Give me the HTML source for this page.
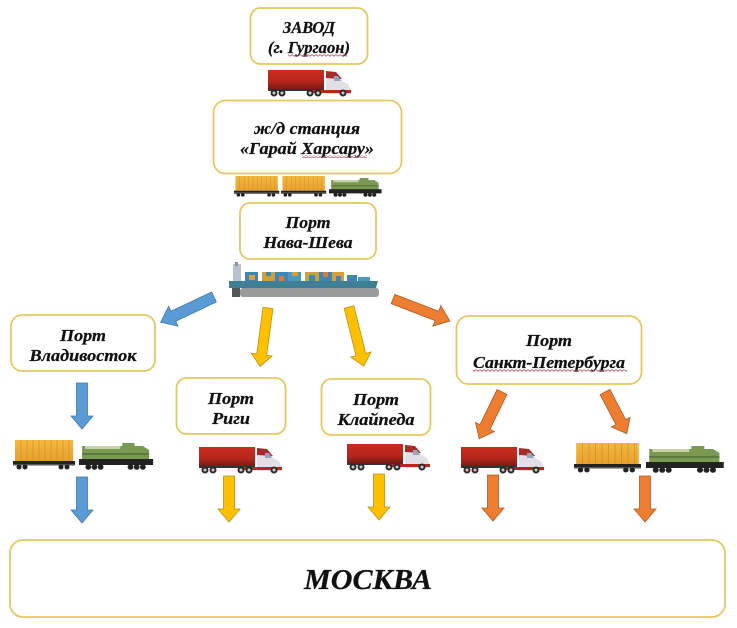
<!DOCTYPE html>
<html>
<head>
<meta charset="utf-8">
<style>
html,body{margin:0;padding:0;background:#fff;width:737px;height:628px;overflow:hidden}
svg{display:block;filter:blur(.35px)}
text{font-family:"Liberation Serif","Noto Serif CJK SC",serif;font-weight:bold;font-style:italic;text-anchor:middle;font-size:16.5px;fill:#111;stroke:#111;stroke-width:.25}
.b{fill:#fff;stroke:#e6c862;stroke-width:1.8}
.bl{fill:#5b9bd5;stroke:#3f78ad;stroke-width:.8}
.ye{fill:#ffc000;stroke:#b8901a;stroke-width:.8}
.or{fill:#ed7d31;stroke:#b15a22;stroke-width:.8}
</style>
</head>
<body>
<svg width="737" height="628" viewBox="0 0 737 628" xmlns="http://www.w3.org/2000/svg">
<defs>
<pattern id="wave" width="4" height="3" patternUnits="userSpaceOnUse"><path d="M0 .5 L2 2.300 L4 .5" fill="none" stroke="#b5485a" stroke-width=".8"/></pattern>
<linearGradient id="red" x1="0" y1="0" x2="0" y2="1"><stop offset="0" stop-color="#cc2c20"/><stop offset=".6" stop-color="#b5261c"/><stop offset="1" stop-color="#7a1a14"/></linearGradient>
<linearGradient id="org" x1="0" y1="0" x2="0" y2="1"><stop offset="0" stop-color="#f3b93f"/><stop offset="1" stop-color="#e8a02c"/></linearGradient>
<g id="truck">
<rect x="0" y="0" width="56" height="19" fill="url(#red)"/>
<rect x="0" y="19" width="56" height="2" fill="#333"/>
<path d="M58 2 L68 3 L74 11 L80 14 L83 21 L83 24 L58 24 Z" fill="#e2e0e6"/>
<path d="M58 1 L68 2 L74 9 L58 8 Z" fill="#a82a28"/>
<path d="M66 6 L70 6 L73 11 L66 11 Z" fill="#8fa6bc"/>
<path d="M40 20 H83 V23 H40Z" fill="#b5261c"/>
<g fill="#2a2a2a"><circle cx="6" cy="23" r="3.500"/><circle cx="14" cy="23" r="3.500"/><circle cx="42" cy="23" r="3.500"/><circle cx="50" cy="23" r="3.500"/><circle cx="75" cy="23" r="3.500"/></g>
<g fill="#ccc"><circle cx="6" cy="23" r="1.500"/><circle cx="14" cy="23" r="1.500"/><circle cx="42" cy="23" r="1.500"/><circle cx="50" cy="23" r="1.500"/><circle cx="75" cy="23" r="1.500"/></g>
</g>
<g id="wagon">
<rect x="2" y="0" width="58" height="21" fill="url(#org)"/>
<path d="M8 0V21M14 0V21M20 0V21M26 0V21M32 0V21M38 0V21M44 0V21M50 0V21M56 0V21" stroke="#c98a28" stroke-width=".6"/>
<rect x="0" y="21" width="62" height="3" fill="#222"/>
<rect x="0" y="24" width="62" height="1.500" fill="#555"/>
<g fill="#222"><circle cx="6" cy="27" r="2.500"/><circle cx="12" cy="27" r="2.500"/><circle cx="48" cy="27" r="2.500"/><circle cx="54" cy="27" r="2.500"/></g>
</g>
<g id="loco">
<path d="M3 3 H42 V0 H54 V3 H62 L68 7 V17 H3Z" fill="#7a9a52"/>
<rect x="6" y="3" width="34" height="3" fill="#c8d4a8"/>
<rect x="3" y="10" width="65" height="2" fill="#5c7a3e"/>
<rect x="0" y="16" width="72" height="6" fill="#222"/>
<g fill="#222"><circle cx="9" cy="24" r="2.800"/><circle cx="15" cy="24" r="2.800"/><circle cx="21" cy="24" r="2.800"/><circle cx="50" cy="24" r="2.800"/><circle cx="56" cy="24" r="2.800"/><circle cx="62" cy="24" r="2.800"/></g>
</g>
</defs>

<!-- boxes -->
<rect class="b" x="250.500" y="8" width="117" height="56" rx="10"/>
<rect class="b" x="213.500" y="100.500" width="188" height="73" rx="12"/>
<rect class="b" x="240" y="203" width="136" height="56" rx="10"/>
<rect class="b" x="11" y="315" width="144" height="56" rx="11"/>
<rect class="b" x="176.500" y="378" width="109" height="56" rx="10"/>
<rect class="b" x="321.500" y="379" width="109" height="56" rx="10"/>
<rect class="b" x="456.500" y="316" width="185" height="68" rx="12"/>
<rect class="b" x="10" y="540" width="715" height="77" rx="13"/>

<!-- labels -->
<text x="309" y="33" textLength="52" lengthAdjust="spacingAndGlyphs">ЗАВОД</text>
<text x="309" y="53" textLength="82" lengthAdjust="spacingAndGlyphs">(г. Гургаон)</text>
<rect x="288" y="53.500" width="59" height="3" fill="url(#wave)"/>
<text x="307" y="134" textLength="106" lengthAdjust="spacingAndGlyphs">ж/д станция</text>
<text x="307" y="154" textLength="134" lengthAdjust="spacingAndGlyphs">«Гарай Харсару»</text>
<rect x="302" y="155" width="65" height="3" fill="url(#wave)"/>
<text x="308" y="228" textLength="45" lengthAdjust="spacingAndGlyphs">Порт</text>
<text x="308" y="248" textLength="89" lengthAdjust="spacingAndGlyphs">Нава-Шева</text>
<text x="83" y="341" textLength="46" lengthAdjust="spacingAndGlyphs">Порт</text>
<text x="83" y="361" textLength="107" lengthAdjust="spacingAndGlyphs">Владивосток</text>
<text x="231" y="404" textLength="46" lengthAdjust="spacingAndGlyphs">Порт</text>
<text x="231" y="424" textLength="38" lengthAdjust="spacingAndGlyphs">Риги</text>
<text x="376" y="405" textLength="46" lengthAdjust="spacingAndGlyphs">Порт</text>
<text x="376" y="425" textLength="77" lengthAdjust="spacingAndGlyphs">Клайпеда</text>
<text x="549" y="346" textLength="46" lengthAdjust="spacingAndGlyphs">Порт</text>
<text x="549" y="368" textLength="152" lengthAdjust="spacingAndGlyphs">Санкт-Петербурга</text>
<rect x="473" y="369.500" width="154" height="3" fill="url(#wave)"/>
<text x="368" y="589" style="font-size:29px" textLength="128" lengthAdjust="spacingAndGlyphs">МОСКВА</text>

<!-- vehicles -->
<use href="#truck" transform="translate(268,70)"/>
<use href="#truck" transform="translate(199,447)"/>
<use href="#truck" transform="translate(347,444)"/>
<use href="#truck" transform="translate(461,447)"/>

<use href="#wagon" transform="translate(234,176) scale(.73,.7)"/>
<use href="#wagon" transform="translate(281,176) scale(.73,.7)"/>
<use href="#loco" transform="translate(329,178) scale(.73,.7)"/>

<use href="#wagon" transform="translate(13,440)"/>
<use href="#loco" transform="translate(79,443) scale(1.030,1)"/>
<use href="#wagon" transform="translate(574,443) scale(1.080,1)"/>
<use href="#loco" transform="translate(646,446) scale(1.080,1)"/>

<!-- ship -->
<g>
<rect x="233" y="264" width="8" height="18" fill="#b8c4cc"/>
<rect x="235" y="262" width="3" height="4" fill="#8a97a0"/>
<path d="M229 281 H378 L376 288 H229Z" fill="#3f7f96"/>
<rect x="240" y="288" width="139" height="9" rx="3" fill="#9a9a9a"/>
<rect x="232" y="288" width="8" height="9" fill="#555"/>
<rect x="245" y="272" width="13" height="9" fill="#3d86b8"/><rect x="249" y="275" width="6" height="5" fill="#e0a030"/>
<rect x="262" y="272" width="13" height="9" fill="#c9a23a"/><rect x="266" y="272" width="5" height="4" fill="#3d86b8"/>
<rect x="275" y="272" width="13" height="9" fill="#3d86b8"/><rect x="279" y="276" width="5" height="5" fill="#d87c3a"/>
<rect x="288" y="272" width="13" height="9" fill="#4a9ac0"/><rect x="292" y="272" width="6" height="4" fill="#d8a030"/>
<rect x="305" y="272" width="14" height="9" fill="#c9a23a"/><rect x="309" y="275" width="6" height="6" fill="#3d86b8"/>
<rect x="319" y="272" width="13" height="9" fill="#3d86b8"/><rect x="323" y="272" width="5" height="5" fill="#d87c3a"/>
<rect x="332" y="272" width="12" height="9" fill="#d8a030"/><rect x="336" y="276" width="5" height="5" fill="#3d86b8"/>
<rect x="347" y="275" width="10" height="6" fill="#3d86b8"/>
<rect x="358" y="277" width="12" height="4" fill="#4a9ac0"/>
</g>

<!-- arrows -->
<polygon class="bl" transform="translate(214,297) rotate(64.700)" points="-5.500,0 5.500,0 5.500,45 11,45 0,59 -11,45 -5.500,45"/>
<polygon class="bl" transform="translate(82,383)" points="-5.500,0 5.500,0 5.500,33 11,33 0,46 -11,33 -5.500,33"/>
<polygon class="bl" transform="translate(82,477)" points="-5.500,0 5.500,0 5.500,33 11,33 0,46 -11,33 -5.500,33"/>
<polygon class="ye" transform="translate(268,308) rotate(7.700)" points="-5,0 5,0 5,47 10.500,47 0,59 -10.500,47 -5,47"/>
<polygon class="ye" transform="translate(349,307) rotate(-14)" points="-5,0 5,0 5,49 10.500,49 0,61 -10.500,49 -5,49"/>
<polygon class="or" transform="translate(393,299) rotate(-68.900)" points="-5,0 5,0 5,47 11,47 0,61 -11,47 -5,47"/>
<polygon class="or" transform="translate(502,392) rotate(26)" points="-5.500,0 5.500,0 5.500,39 10.500,39 0,52 -10.500,39 -5.500,39"/>
<polygon class="or" transform="translate(605,392) rotate(-27.600)" points="-5.500,0 5.500,0 5.500,34 10.500,34 0,47 -10.500,34 -5.500,34"/>
<polygon class="ye" transform="translate(229,476)" points="-5.500,0 5.500,0 5.500,33 11,33 0,46 -11,33 -5.500,33"/>
<polygon class="ye" transform="translate(379,474)" points="-5.500,0 5.500,0 5.500,33 11,33 0,46 -11,33 -5.500,33"/>
<polygon class="or" transform="translate(493,475)" points="-5.500,0 5.500,0 5.500,33 11,33 0,46 -11,33 -5.500,33"/>
<polygon class="or" transform="translate(645,476)" points="-5.500,0 5.500,0 5.500,33 11,33 0,46 -11,33 -5.500,33"/>
</svg>
</body>
</html>
